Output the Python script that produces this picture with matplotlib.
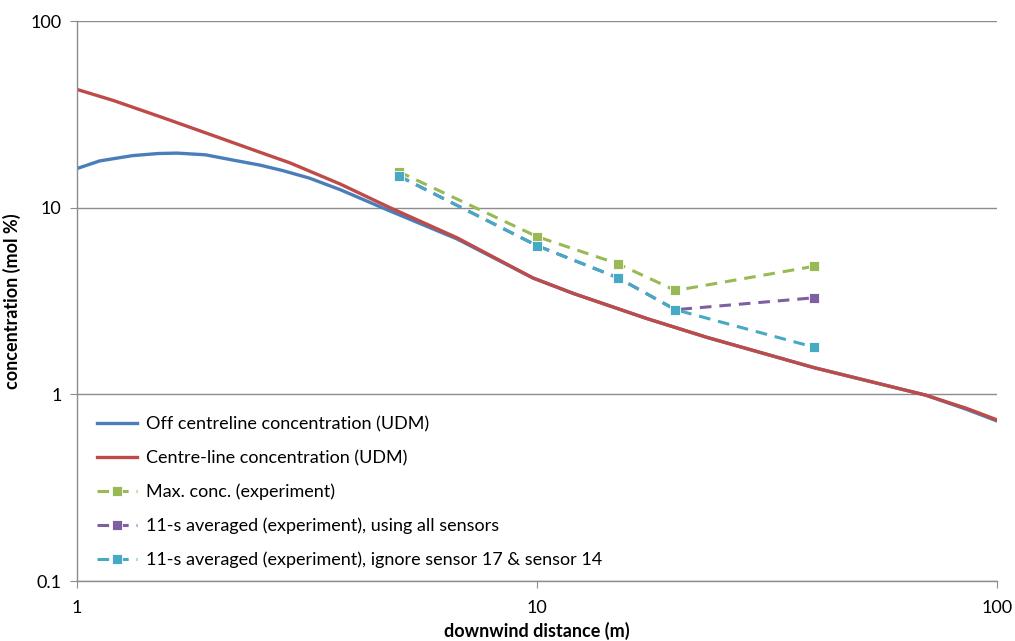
import matplotlib
matplotlib.use("Agg")
import matplotlib.pyplot as plt
from matplotlib.ticker import FixedLocator, NullLocator, FixedFormatter

plt.rcParams["font.family"] = ["Lato", "DejaVu Sans"]

# UDM model curves
udm_x_off = [1, 1.12, 1.32, 1.5, 1.65, 1.9, 2.18, 2.5, 2.8, 3.2, 3.73, 4.79,
             6.7, 9.8, 12, 17.3, 23.4, 40, 70, 86, 100]
udm_off = [16.2, 17.8, 19.0, 19.5, 19.6, 19.2, 18.0, 16.9, 15.8, 14.4, 12.5, 9.6,
           6.8, 4.2, 3.47, 2.55, 2.02, 1.39, 0.99, 0.83, 0.72]

udm_x_centre = [1, 1.2, 1.54, 2, 2.5, 2.9, 3.73, 4.79, 6.7, 9.8, 12, 17.3,
                23.4, 40, 70, 86, 100]
udm_centre = [43, 37.5, 30.3, 24.1, 19.8, 17.4, 13.4, 10.0, 6.9, 4.2, 3.47, 2.55,
              2.02, 1.39, 0.99, 0.84, 0.73]

# sensor measurements
exp_x = [5, 10, 15, 20, 40]
max_conc = [15.6, 7.0, 5.0, 3.6, 4.85]
avg_all = [14.8, 6.26, 4.21, 2.84, 3.29]
avg_ignore = [14.8, 6.26, 4.21, 2.84, 1.79]

x_ticks = [1, 10, 100]
y_ticks = [0.1, 1, 10, 100]

fig = plt.figure(figsize=(10.15, 6.41), dpi=100)
ax = fig.add_axes([77 / 1015, 1 - 581 / 641, 920 / 1015, 560 / 641])

ax.plot(udm_x_off, udm_off, color="#4A7EBB", lw=2.4,
        label="Off centreline concentration (UDM)")
ax.plot(udm_x_centre, udm_centre, color="#BE4B48", lw=2.4,
        label="Centre-line concentration (UDM)")
dash = dict(lw=2.2, ls=(0, (3.8, 2.6)), marker="s", ms=6.5, mec="white", mew=0.6)
ax.plot(exp_x, max_conc, color="#98B954", label="Max. conc. (experiment)", **dash)
ax.plot(exp_x, avg_all, color="#7D60A0",
        label="11-s averaged (experiment), using all sensors", **dash)
ax.plot(exp_x, avg_ignore, color="#46AAC5",
        label="11-s averaged (experiment), ignore sensor 17 & sensor 14", **dash)

ax.set_xscale("log")
ax.set_yscale("log")
ax.set_xlim(1, 100)
ax.set_ylim(0.1, 100)

ax.xaxis.set_major_locator(FixedLocator(x_ticks))
ax.xaxis.set_major_formatter(FixedFormatter([str(v) for v in x_ticks]))
ax.xaxis.set_minor_locator(NullLocator())
ax.yaxis.set_major_locator(FixedLocator(y_ticks))
ax.yaxis.set_major_formatter(FixedFormatter(["0.1", "1", "10", "100"]))
ax.yaxis.set_minor_locator(NullLocator())

ax.grid(axis="y", color="#8C8C8C", lw=1.0)
ax.set_axisbelow(True)
for side in ("top", "right"):
    ax.spines[side].set_visible(False)
for side in ("left", "bottom"):
    ax.spines[side].set_color("#8C8C8C")
    ax.spines[side].set_linewidth(1.0)
ax.tick_params(axis="both", length=5, color="#8C8C8C", labelsize=13, pad=6)
ax.tick_params(axis="x", pad=9)

ax.set_xlabel("downwind distance (m)", fontsize=13, fontweight="bold", labelpad=4)
ax.set_ylabel("concentration (mol %)", fontsize=13, fontweight="bold", labelpad=7)

ax.legend(loc="lower left", bbox_to_anchor=(0.008, 0.0), frameon=False, fontsize=13,
          handlelength=2.2, handletextpad=0.5, numpoints=1, labelspacing=0.97,
          borderaxespad=0.3, borderpad=0.4)

fig.savefig("out.png", dpi=100)
